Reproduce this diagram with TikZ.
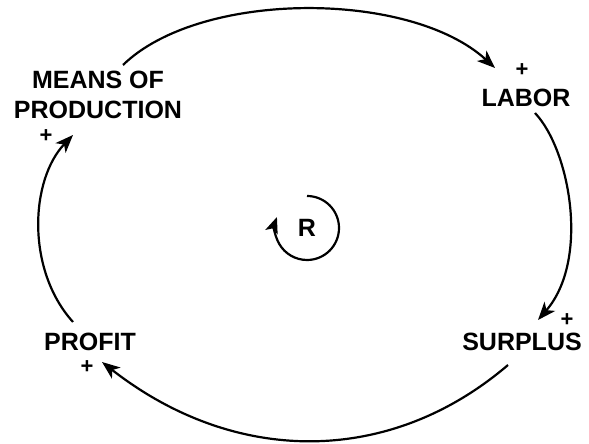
\documentclass[tikz,border=0pt]{standalone}
\usepackage{fontspec}
\setmainfont{Liberation Sans}
\usetikzlibrary{arrows.meta}
\begin{document}
\begin{tikzpicture}[x=1pt,y=1pt,
  lbl/.style={font=\bfseries\fontsize{25}{30}\selectfont, align=center, inner sep=0pt},
  pls/.style={font=\bfseries\fontsize{22}{22}\selectfont, inner sep=0pt},
  conn/.style={line width=2.2pt, -{Stealth[length=18pt,width=14pt,inset=5pt]}}]
\useasboundingbox (0,0) rectangle (589,444);
\fill[white] (0,0) rectangle (589,444);
% variables
\node[lbl] (mop) at (98,349) {MEANS OF\\PRODUCTION};
\node[lbl] (labor) at (526,346) {LABOR};
\node[lbl] (surplus) at (522,102) {SURPLUS};
\node[lbl] (profit) at (90,102) {PROFIT};
% polarity signs
\node[pls] (pmop) at (46,308) {+};
\node[pls] (plabor) at (522,374) {+};
\node[pls] (psurplus) at (567,124) {+};
\node[pls] (pprofit) at (87,77) {+};
% loop marker
\node[font=\bfseries\fontsize{25}{25}\selectfont, inner sep=0pt] (R) at (307,216) {R};
% links
\draw[conn] ([shift={(25,30)}]mop.center) .. controls (200,454) and (410,454) .. ([shift={(-27,2)}]plabor.center);
\draw[conn] ([shift={(9,-15)}]labor.center) .. controls (570,294) and (590,184) .. ([shift={(-29,0)}]psurplus.center);
\draw[conn] ([shift={(-14,-23)}]surplus.center) .. controls (390,-22) and (235,-22) .. ([shift={(15,5)}]pprofit.center);
\draw[conn] ([shift={(-17,20)}]profit.center) .. controls (26,174) and (30,264) .. ([shift={(27,1)}]pmop.center);
% loop arrow
\draw[line width=2.2pt, -{Stealth[length=16pt,width=13pt,inset=4pt]}] ([shift={(90:32)}]R.center) arc[start angle=90, end angle=-200, radius=32];
\end{tikzpicture}
\end{document}
